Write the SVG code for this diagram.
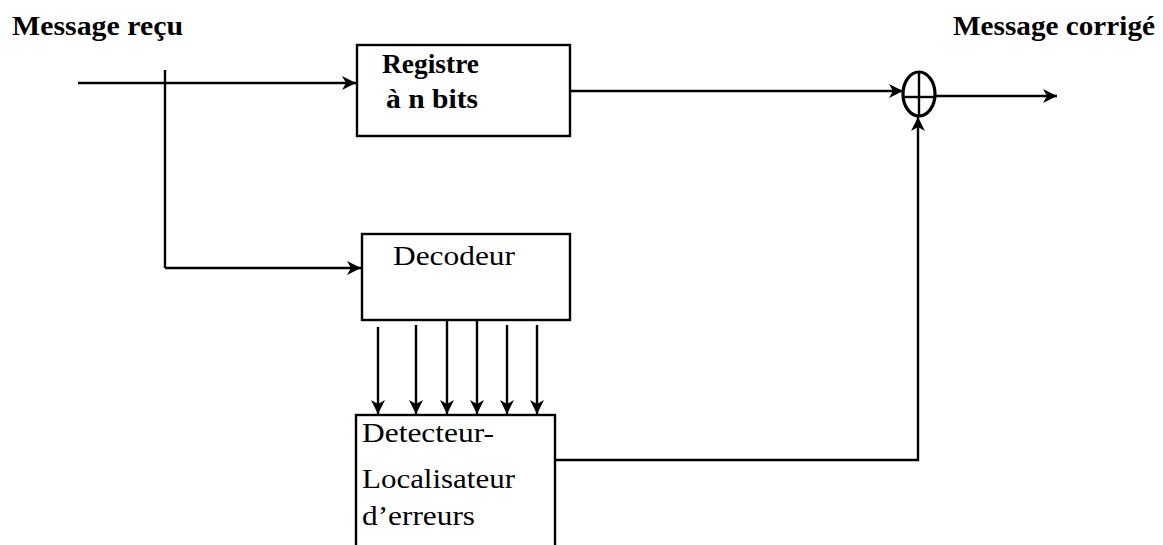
<svg xmlns="http://www.w3.org/2000/svg" width="1163" height="545" viewBox="0 0 1163 545">
<style>
text{fill:#000}
.hd{font-size:27px;font-weight:bold}
.bx{fill:#fff;stroke:#000;stroke-width:2.4}
.ln{fill:none;stroke:#000;stroke-width:2.4}
.lb{font-size:28px}
.lbb{font-size:27px;font-weight:bold}
</style>
<defs>
<marker id="ah" markerUnits="userSpaceOnUse" markerWidth="16" markerHeight="14" refX="14" refY="7" orient="auto">
<path d="M0,0 L14,7 L0,14 L4,7 Z" fill="#000"/>
</marker>
</defs>
<g font-family="'Liberation Serif', 'Times New Roman', 'DejaVu Serif', serif">
<text class="hd" x="12" y="35" textLength="171" lengthAdjust="spacingAndGlyphs">Message reçu</text>
<text class="hd" x="953" y="35" textLength="202" lengthAdjust="spacingAndGlyphs">Message corrigé</text>
<g id="connectors">
<line class="ln" x1="78" y1="83" x2="356" y2="83" marker-end="url(#ah)"/>
<line class="ln" x1="165" y1="70" x2="165" y2="268" stroke-width="3"/>
<line class="ln" x1="165" y1="268" x2="361" y2="268" marker-end="url(#ah)"/>
<line class="ln" x1="570" y1="91" x2="903" y2="91" marker-end="url(#ah)"/>
<line class="ln" x1="935" y1="96" x2="1057" y2="96" marker-end="url(#ah)"/>
<polyline class="ln" points="555,460 918,460 918,117" stroke-width="3" marker-end="url(#ah)"/>
<line class="ln" x1="378" y1="327" x2="378" y2="414" marker-end="url(#ah)"/>
<line class="ln" x1="416" y1="325" x2="416" y2="414" marker-end="url(#ah)"/>
<line class="ln" x1="447" y1="320" x2="447" y2="414" stroke-width="2.8" marker-end="url(#ah)"/>
<line class="ln" x1="477" y1="320" x2="477" y2="414" marker-end="url(#ah)"/>
<line class="ln" x1="507" y1="325" x2="507" y2="414" stroke-width="3" marker-end="url(#ah)"/>
<line class="ln" x1="537" y1="325" x2="537" y2="414" stroke-width="3" marker-end="url(#ah)"/>
</g>
<g id="registre">
<rect class="bx" x="357" y="45" width="213" height="91"/>
<text class="lbb" x="382" y="73" textLength="97" lengthAdjust="spacingAndGlyphs">Registre</text>
<text class="lbb" x="386" y="108" textLength="92" lengthAdjust="spacingAndGlyphs">à n bits</text>
</g>
<g id="decodeur">
<rect class="bx" x="362" y="234" width="208" height="86"/>
<text class="lb" x="393" y="265" textLength="122" lengthAdjust="spacingAndGlyphs">Decodeur</text>
</g>
<g id="detecteur">
<rect class="bx" x="356" y="415" width="199" height="132"/>
<text class="lb" x="362" y="442" textLength="132" lengthAdjust="spacingAndGlyphs">Detecteur-</text>
<text class="lb" x="362" y="488" textLength="153" lengthAdjust="spacingAndGlyphs">Localisateur</text>
<text class="lb" x="362" y="525" textLength="113" lengthAdjust="spacingAndGlyphs">d’erreurs</text>
</g>
<g id="sommateur">
<ellipse cx="919" cy="94" rx="16" ry="22" fill="#fff" stroke="#000" stroke-width="3.2"/>
<line class="ln" x1="919" y1="72" x2="919" y2="116"/>
<line class="ln" x1="903" y1="97" x2="935" y2="97"/>
</g>
</g>
</svg>
